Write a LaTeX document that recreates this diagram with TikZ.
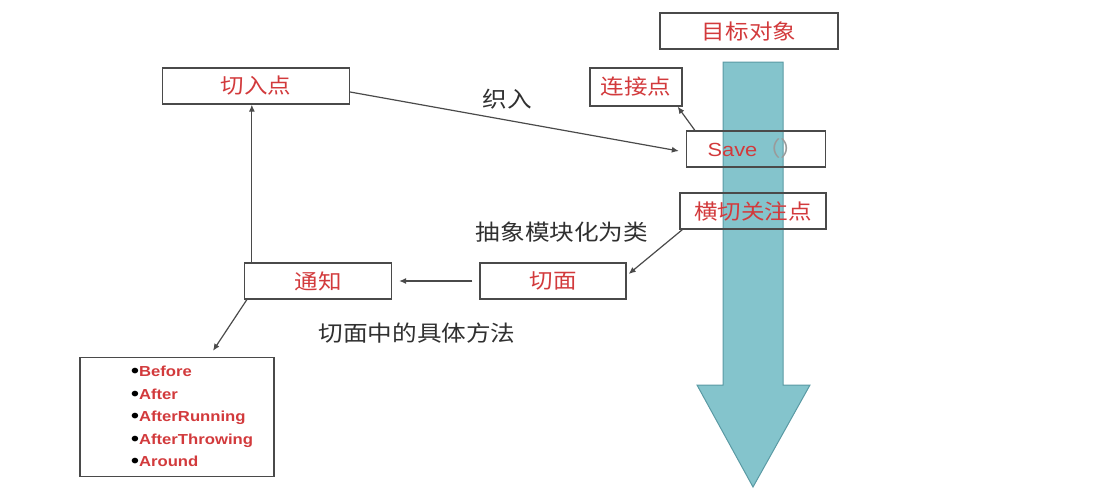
\documentclass[tikz,border=0pt]{standalone}
\usepackage{fontspec}
\setmainfont{Liberation Sans}
\newfontfamily\cjkfont[FakeStretch=1.12]{Noto Sans CJK SC}
\newfontfamily\listfont[FakeStretch=1.15]{Liberation Sans}
\usetikzlibrary{arrows.meta, positioning}
\definecolor{BoxRed}{HTML}{D23A3C}
\definecolor{BoxLine}{HTML}{4A4A4A}
\definecolor{LabelGray}{HTML}{303030}
\definecolor{ParenGray}{HTML}{9A9A9A}
\definecolor{FlowTeal}{HTML}{84C4CC}
\definecolor{FlowEdge}{HTML}{5A9AA4}
\tikzset{
    % Concept box (red text, thin frame)
    concept/.style={
        rectangle,
        draw=BoxLine,
        line width=1.3pt,
        text=BoxRed,
        minimum height=36pt,
        inner sep=0pt,
        align=center,
        font=\cjkfont\fontsize{21}{25}\selectfont
    },
    % Free label beside a connector
    note/.style={
        text=LabelGray,
        inner sep=0pt,
        font=\cjkfont\fontsize{22}{26}\selectfont
    },
    % List frame
    listbox/.style={
        rectangle,
        draw=BoxLine,
        line width=1.3pt,
        inner sep=0pt
    },
    % Arrow style
    arrow/.style={
        -{Latex[length=7pt,width=6pt]},
        line width=1.2pt,
        color=BoxLine
    }
}
\newcommand{\dotitem}[1]{\textcolor{black}{\raisebox{-1.2pt}{\scalebox{1.35}{\textbullet}}}#1}

\begin{document}
\begin{tikzpicture}[x=1pt, y=-1pt]
    \useasboundingbox (0,0) rectangle (1119,501);

    % Flow of the target object
    \draw [fill=FlowTeal, draw=FlowEdge, line width=1pt]
        (723,62) -- (783,62) -- (783,385) -- (810,385) -- (753,487)
        -- (697,385) -- (723,385) -- cycle;

    \node (target) [concept, minimum width=178pt] at (749,31) {目标对象};
    \node (joinpt) [concept, minimum width=92pt, minimum height=38pt] at (636,87) {连接点};
    \node (save) [concept, minimum width=139pt] at (756,149)
        {{\listfont\fontsize{19}{24}\selectfont Save}\textcolor{ParenGray}{（）}};
    \node (concern) [concept, minimum width=146pt] at (753,211) {横切关注点};

    \node (pointcut) [concept, minimum width=187pt] at (256,86) {切入点};
    \node (advice) [concept, minimum width=147pt] at (318,281) {通知};
    \node (aspect) [concept, minimum width=146pt] at (553,281) {切面};

    \node (kinds) [listbox, minimum width=194pt, minimum height=119pt] at (177,417) {};
    \node (kindlist) [anchor=west, align=left, inner sep=0pt,
        font=\listfont\bfseries\fontsize{14.5}{22.5}\selectfont, text=BoxRed] at (131,417)
        {\dotitem{Before}\\
         \dotitem{After}\\
         \dotitem{AfterRunning}\\
         \dotitem{AfterThrowing}\\
         \dotitem{Around}};

    \draw [arrow] ([yshift=-6pt]pointcut.east) -- ([xshift=-7pt,yshift=-2pt]save.west);
    \draw [arrow] ([xshift=9pt]save.north west) -- ([xshift=-5pt]joinpt.south east);
    \draw [arrow] ([xshift=3pt]concern.south west) -- ([xshift=2pt,yshift=7pt]aspect.east);
    \draw [arrow, shorten >=7pt, shorten <=7pt] (aspect.west) -- (advice.east);
    \draw [arrow] ([xshift=8pt]advice.north west) -- ([xshift=8pt]advice.north west |- pointcut.south);
    \draw [arrow] ([xshift=3pt]advice.south west) -- ([xshift=36pt,yshift=6pt]kinds.north);

    % Connector labels
    \node (weave) [note] at (507,99) {织入};
    \node (abstract) [note] at (562,232) {抽象模块化为类};
    \node (method) [note] at (417,333) {切面中的具体方法};
\end{tikzpicture}
\end{document}
